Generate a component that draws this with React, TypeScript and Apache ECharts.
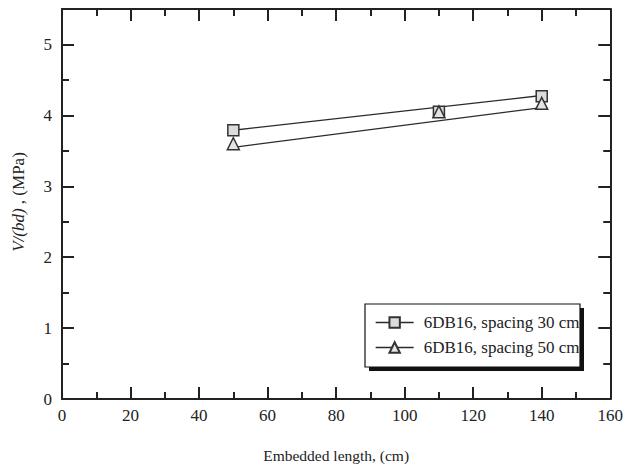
import React, { useEffect, useRef } from "react";
import * as echarts from "echarts";

const xValues = [50, 110, 140];
const yValues30 = [3.79, 4.05, 4.27];
const yValues50 = [3.6, 4.05, 4.17];
const trendX = [50, 140];
const trendY30 = [3.79, 4.28];
const trendY50 = [3.55, 4.11];
const seriesNames = ["6DB16, spacing 30 cm", "6DB16, spacing 50 cm"];
const xAxisTitle = "Embedded length, (cm)";

const FONT = "'Liberation Serif', 'Times New Roman', serif";
const INK = "#222";
const LINE = "#2a2a2a";

export default function App() {
  const ref = useRef<HTMLDivElement>(null);
  useEffect(() => {
    if (!ref.current) return;
    const chart = echarts.init(ref.current, null, { renderer: "svg" });
    const xBase = {
      type: "value" as const,
      min: 0,
      max: 160,
      interval: 20,
      axisLine: { show: true, onZero: false, lineStyle: { color: INK, width: 2 } },
      axisTick: { show: true, inside: true, length: 12, lineStyle: { color: INK, width: 2 } },
      minorTick: { show: true, splitNumber: 2, length: 7, lineStyle: { color: INK, width: 2 } },
      splitLine: { show: false },
    };
    const yMajor = {
      type: "value" as const,
      min: 0,
      max: 5.5,
      interval: 1,
      axisLine: { show: true, onZero: false, lineStyle: { color: INK, width: 2 } },
      axisTick: { show: true, inside: true, length: 12, lineStyle: { color: INK, width: 2 } },
      splitLine: { show: false },
    };
    const yMinor = {
      type: "value" as const,
      min: 0,
      max: 5.5,
      interval: 0.5,
      axisLine: { show: false, onZero: false },
      axisTick: { show: true, inside: true, length: 7, lineStyle: { color: INK, width: 2 } },
      axisLabel: { show: false },
      splitLine: { show: false },
    };
    const option: any = {
      animation: false,
      backgroundColor: "#fff",
      grid: { left: 62, top: 9, right: 13, bottom: 65, containLabel: false },
      xAxis: [
        {
          ...xBase,
          position: "bottom",
          name: xAxisTitle,
          nameLocation: "middle",
          nameGap: 48,
          nameTextStyle: { fontFamily: FONT, fontSize: 15.5, color: INK },
          axisLabel: { show: true, margin: 8, fontFamily: FONT, fontSize: 17, color: INK },
        },
        { ...xBase, position: "top", axisLabel: { show: false } },
      ],
      yAxis: [
        {
          ...yMajor,
          position: "left",
          axisLabel: {
            show: true,
            margin: 10,
            fontFamily: FONT,
            fontSize: 17,
            color: INK,
            formatter: (v: number) => (Number.isInteger(v) ? String(v) : ""),
          },
        },
        { ...yMinor, position: "left" },
        { ...yMajor, position: "right", axisLabel: { show: false } },
        { ...yMinor, position: "right" },
      ],
      graphic: [
        { type: "rect", shape: { x: 369, y: 308, width: 215, height: 63 }, style: { fill: "#111" }, z: 1 },
        { type: "rect", shape: { x: 365, y: 304, width: 215, height: 63 }, style: { fill: "#fff", stroke: "#111", lineWidth: 1.2 }, z: 2 },
        {
          type: "text",
          x: 18,
          y: 202,
          rotation: Math.PI / 2,
          style: {
            text: "{i|V/(bd)} , (MPa)",
            align: "center",
            verticalAlign: "middle",
            font: `17px ${FONT}`,
            fill: INK,
            rich: {
              i: { fontStyle: "italic", fontFamily: FONT, fontSize: 17, fill: INK },
            },
          },
          z: 3,
        },
      ],
      legend: {
        show: true,
        orient: "vertical",
        left: 375,
        top: 314,
        padding: 0,
        itemWidth: 38,
        itemHeight: 13,
        itemGap: 8,
        lineStyle: { color: LINE, width: 1.3, opacity: 1 },
        textStyle: { fontFamily: FONT, fontSize: 17, color: INK, padding: [0, 0, 0, 5] },
        data: seriesNames,
        z: 10,
      },
      series: [
        {
          name: "trend30",
          type: "line",
          data: trendX.map((x, i) => [x, trendY30[i]]),
          symbol: "none",
          lineStyle: { color: LINE, width: 1.3 },
          silent: true,
          z: 2,
        },
        {
          name: "trend50",
          type: "line",
          data: trendX.map((x, i) => [x, trendY50[i]]),
          symbol: "none",
          lineStyle: { color: LINE, width: 1.3 },
          silent: true,
          z: 2,
        },
        {
          name: seriesNames[0],
          type: "line",
          data: xValues.map((x, i) => [x, yValues30[i]]),
          symbol: "rect",
          symbolSize: 11,
          lineStyle: { color: LINE, width: 1.3, opacity: 0 },
          itemStyle: { color: "#dcdcdc", borderColor: "#333", borderWidth: 1.5 },
          z: 3,
        },
        {
          name: seriesNames[1],
          type: "line",
          data: xValues.map((x, i) => [x, yValues50[i]]),
          symbol: "triangle",
          symbolSize: 12,
          lineStyle: { color: LINE, width: 1.3, opacity: 0 },
          itemStyle: { color: "#e4e4e4", borderColor: "#333", borderWidth: 1.5 },
          z: 4,
        },
      ],
    };
    chart.setOption(option);
    return () => chart.dispose();
  }, []);
  return (
    <div
      ref={ref}
      style={{ position: "fixed", left: 0, top: 0, width: 626, height: 468, background: "#fff" }}
    />
  );
}
